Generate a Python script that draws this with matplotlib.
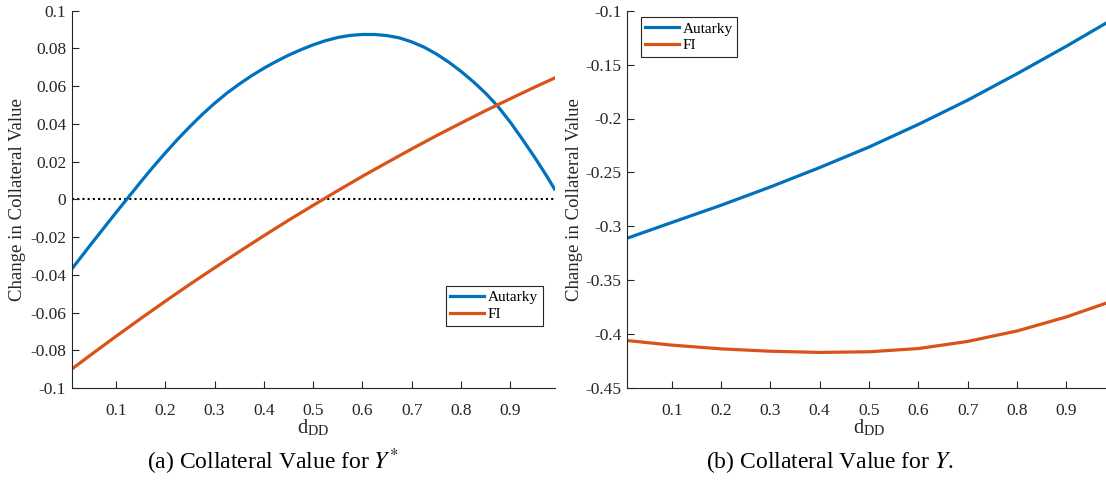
import matplotlib
matplotlib.use("Agg")
import matplotlib.pyplot as plt

plt.rcParams['font.family'] = ['Liberation Serif', 'DejaVu Serif']
plt.rcParams['mathtext.fontset'] = 'stix'

# ---- data ----
d_dd_a_autarky = [0.01, 0.05, 0.10, 0.15, 0.175, 0.20, 0.225, 0.25, 0.275, 0.30,
                  0.325, 0.35, 0.375, 0.40, 0.425, 0.45, 0.475, 0.50, 0.525,
                  0.55, 0.575, 0.60, 0.625, 0.65, 0.675, 0.70, 0.725, 0.75,
                  0.775, 0.80, 0.825, 0.85, 0.875, 0.90, 0.925, 0.95, 0.975, 0.99]
ystar_autarky = [-0.0370, -0.0235, -0.0070, 0.0092, 0.0171, 0.0246, 0.0318,
                 0.0386, 0.0450, 0.0509, 0.0563, 0.0611, 0.0655, 0.0695,
                 0.0731, 0.0764, 0.0793, 0.0819, 0.0841, 0.0858, 0.0869,
                 0.0874, 0.0874, 0.0868, 0.0856, 0.0835, 0.0807, 0.0771,
                 0.0728, 0.0679, 0.0624, 0.0563, 0.0493, 0.0410, 0.0318,
                 0.0222, 0.0120, 0.0055]

d_dd_a_fi = [0.01, 0.05, 0.10, 0.15, 0.20, 0.25, 0.30, 0.35, 0.40, 0.45, 0.50,
             0.55, 0.60, 0.65, 0.70, 0.75, 0.80, 0.85, 0.90, 0.95, 0.99]
ystar_fi = [-0.0900, -0.0822, -0.0726, -0.0632, -0.0540, -0.0450, -0.0363,
            -0.0277, -0.0193, -0.0111, -0.0032, 0.0046, 0.0122, 0.0195,
            0.0267, 0.0337, 0.0404, 0.0470, 0.0533, 0.0595, 0.0643]

d_dd_b = [0.01, 0.10, 0.20, 0.30, 0.40, 0.50, 0.60, 0.70, 0.80, 0.90, 0.99]
y_autarky = [-0.3110, -0.2965, -0.2805, -0.2635, -0.2455, -0.2265, -0.2055,
             -0.1830, -0.1585, -0.1330, -0.1090]
y_fi = [-0.4060, -0.4102, -0.4137, -0.4159, -0.4170, -0.4164, -0.4134,
        -0.4068, -0.3971, -0.3841, -0.3698]

xticks = [0.1, 0.2, 0.3, 0.4, 0.5, 0.6, 0.7, 0.8, 0.9]
xtick_labels = ['0.1', '0.2', '0.3', '0.4', '0.5', '0.6', '0.7', '0.8', '0.9']
yticks_a = [-0.1, -0.08, -0.06, -0.04, -0.02, 0.0, 0.02, 0.04, 0.06, 0.08, 0.1]
ytick_labels_a = ['-0.1', '-0.08', '-0.06', '-0.04', '-0.02', '0', '0.02',
                  '0.04', '0.06', '0.08', '0.1']
yticks_b = [-0.45, -0.4, -0.35, -0.3, -0.25, -0.2, -0.15, -0.1]
ytick_labels_b = ['-0.45', '-0.4', '-0.35', '-0.3', '-0.25', '-0.2', '-0.15', '-0.1']

series_names = ['Autarky', 'FI']
BLUE = '#0072BD'
ORANGE = '#D95319'
AXC = '#262626'

W, H = 1106, 482
fig = plt.figure(figsize=(W / 100, H / 100), dpi=100)

def px_axes(l, r, t, b):
    return fig.add_axes([l / W, 1 - b / H, (r - l) / W, (b - t) / H])

axA = px_axes(71.7, 554.5, 10.7, 388.0)
axB = px_axes(627.3, 1110.7, 10.7, 388.0)

TICK_FS = 12.5

def style(ax, yt, ytl, ylim, ylab_x):
    ax.set_xlim(0.01, 0.99)
    ax.set_ylim(*ylim)
    ax.set_xticks(xticks)
    ax.set_xticklabels(xtick_labels)
    ax.set_yticks(yt)
    ax.set_yticklabels(ytl)
    for s in ['top', 'right']:
        ax.spines[s].set_visible(False)
    for s in ['left', 'bottom']:
        ax.spines[s].set_color(AXC)
        ax.spines[s].set_linewidth(0.8)
    ax.tick_params(direction='in', length=5, width=0.8, color=AXC,
                   labelcolor=AXC, labelsize=TICK_FS)
    ax.tick_params(axis='x', pad=11)
    ax.tick_params(axis='y', pad=4)
    ax.set_xlabel(r'd$_{\mathregular{DD}}$', fontsize=14.5, color=AXC, labelpad=-1)
    ax.set_ylabel('Change in Collateral Value', fontsize=13.5, color=AXC)
    ax.yaxis.set_label_coords(ylab_x, 0.5)

# (a)
axA.plot(d_dd_a_autarky, ystar_autarky, color=BLUE, lw=2.3, label=series_names[0])
axA.plot(d_dd_a_fi, ystar_fi, color=ORANGE, lw=2.3, label=series_names[1])
axA.axhline(0, color='black', lw=1.5, ls=(0, (1, 1.5)), zorder=1)
style(axA, yticks_a, ytick_labels_a, (-0.1, 0.1), (26 - 71.7) / 482.8)
legA = axA.legend(loc='upper left', bbox_to_anchor=(0.775, 0.270), borderaxespad=0,
                  fancybox=False, edgecolor=AXC, fontsize=11, handlelength=2.2,
                  handletextpad=0.25, borderpad=0.3, labelspacing=0.2, framealpha=1)
legA.get_frame().set_linewidth(0.8)

# (b)
axB.plot(d_dd_b, y_autarky, color=BLUE, lw=2.3, label=series_names[0])
axB.plot(d_dd_b, y_fi, color=ORANGE, lw=2.3, label=series_names[1])
style(axB, yticks_b, ytick_labels_b, (-0.45, -0.1), (583 - 627.3) / 483.4)
legB = axB.legend(loc='upper left', bbox_to_anchor=(0.0277, 0.9825), borderaxespad=0,
                  fancybox=False, edgecolor=AXC, fontsize=11, handlelength=2.2,
                  handletextpad=0.25, borderpad=0.3, labelspacing=0.2, framealpha=1)
legB.get_frame().set_linewidth(0.8)

fig.text(273 / W, 1 - 462 / H, r'(a) Collateral Value for $Y^{*}$', fontsize=17,
         ha='center', va='center', color='black')
fig.text(830 / W, 1 - 462 / H, r'(b) Collateral Value for $Y$.', fontsize=17,
         ha='center', va='center', color='black')

fig.savefig('out.png', dpi=100)
